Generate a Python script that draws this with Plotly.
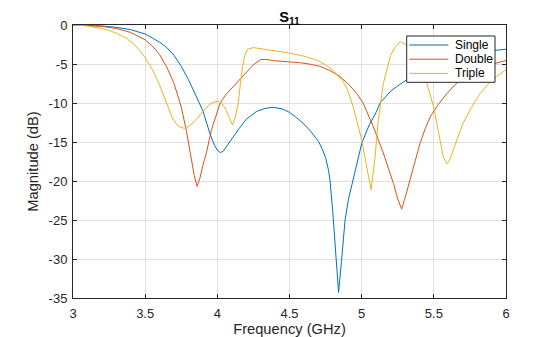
import plotly.graph_objects as go

# Frequency sweep (GHz) and |S11| (dB) for the three antenna variants
freq_single = [3.0, 3.1, 3.2, 3.3, 3.4, 3.5, 3.6, 3.65, 3.7, 3.75, 3.8, 3.85, 3.9, 3.95, 3.98, 4.0, 4.02,
               4.04, 4.07, 4.1, 4.15, 4.2, 4.27, 4.33, 4.38, 4.45, 4.5, 4.55, 4.6, 4.65, 4.7, 4.725, 4.75,
               4.77, 4.78, 4.8, 4.82, 4.84, 4.86, 4.885, 4.908, 4.94, 4.97, 5.0, 5.05, 5.1, 5.127, 5.15,
               5.2, 5.243, 5.3, 5.35, 5.4, 5.5, 5.6, 5.7, 5.8, 5.9, 6.0]
s11_single = [0, -0.04, -0.12, -0.3, -0.6, -1.15, -2.2, -2.9, -3.9, -5.3, -7.0, -9.0, -11.0, -14.0,
              -15.4, -16.05, -16.35, -16.2, -15.4, -14.5, -13.3, -12.1, -11.1, -10.7, -10.55, -10.75,
              -11.2, -11.9, -12.7, -13.7, -14.9, -15.8, -17.0, -18.6, -19.8, -24.0, -29.0, -34.3, -30.3,
              -25.0, -22.4, -19.9, -17.4, -15.2, -12.9, -11.2, -10.0, -9.5, -8.5, -7.9, -7.15, -6.5,
              -5.9, -4.95, -4.25, -3.8, -3.5, -3.3, -3.1]

freq_double = [3.0, 3.1, 3.2, 3.3, 3.4, 3.5, 3.55, 3.6, 3.65, 3.7, 3.75, 3.785, 3.82, 3.84, 3.86, 3.88,
               3.9, 3.924, 3.96, 3.99, 4.02, 4.06, 4.11, 4.18, 4.25, 4.3, 4.33, 4.39, 4.5, 4.57, 4.65,
               4.71, 4.78, 4.85, 4.92, 4.97, 5.01, 5.05, 5.08, 5.15, 5.22, 5.25, 5.277, 5.3, 5.335, 5.37,
               5.404, 5.44, 5.474, 5.53, 5.59, 5.65, 5.7, 5.78, 5.86, 5.93, 6.0]
s11_double = [0, -0.05, -0.18, -0.45, -0.95, -1.9, -2.7, -3.8, -5.4, -7.5, -10.5, -13.5, -17.0, -19.3,
              -20.7, -19.6, -18.0, -16.4, -13.4, -11.6, -10.0, -8.9, -7.9, -6.4, -5.1, -4.45, -4.4, -4.57,
              -4.7, -4.83, -5.05, -5.3, -5.85, -6.6, -7.8, -8.9, -10.0, -11.6, -13.0, -16.4, -20.3, -22.3,
              -23.6, -22.2, -19.9, -17.4, -15.2, -13.3, -11.8, -10.2, -8.8, -7.6, -6.7, -5.8, -5.3, -4.9, -4.55]

freq_triple = [3.0, 3.1, 3.2, 3.25, 3.3, 3.37, 3.42, 3.46, 3.5, 3.55, 3.6, 3.65, 3.69, 3.73, 3.77, 3.81,
               3.85, 3.9, 3.94, 3.97, 4.0, 4.03, 4.06, 4.085, 4.105, 4.125, 4.145, 4.16, 4.175, 4.19, 4.21,
               4.25, 4.35, 4.5, 4.6, 4.69, 4.75, 4.8, 4.87, 4.9, 4.94, 4.97, 5.0, 5.035, 5.065, 5.09, 5.115,
               5.15, 5.2, 5.24, 5.27, 5.31, 5.35, 5.4, 5.45, 5.5, 5.54, 5.565, 5.59, 5.61, 5.635, 5.67, 5.7,
               5.76, 5.82, 5.88, 5.935, 6.0]
s11_triple = [0, -0.12, -0.45, -0.7, -1.05, -1.7, -2.4, -3.2, -4.2, -5.7, -7.7, -10.0, -12.0, -13.0, -13.25,
              -12.9, -12.2, -11.1, -10.3, -9.9, -9.8, -10.0, -10.9, -12.0, -12.8, -11.8, -10.0, -7.5, -5.3,
              -3.9, -3.1, -2.9, -3.15, -3.6, -4.0, -4.5, -5.1, -5.8, -7.2, -8.2, -10.4, -12.5, -14.7, -18.2,
              -21.1, -17.5, -12.2, -7.5, -3.9, -2.6, -2.15, -2.55, -3.3, -4.9, -7.35, -10.6, -14.4, -16.9,
              -17.8, -17.3, -16.0, -14.3, -12.7, -10.6, -8.8, -7.5, -6.6, -5.7]

x_ticks = [3, 3.5, 4, 4.5, 5, 5.5, 6]
x_labels = ["3", "3.5", "4", "4.5", "5", "5.5", "6"]
y_ticks = [0, -5, -10, -15, -20, -25, -30, -35]
y_labels = ["0", "-5", "-10", "-15", "-20", "-25", "-30", "-35"]

series_names = ["Single", "Double", "Triple"]
series_colors = ["#0072BD", "#D95319", "#EDB120"]
series_freq = [freq_single, freq_double, freq_triple]
series_s11 = [s11_single, s11_double, s11_triple]

W, H = 560, 337
M_L, M_R, M_T, M_B = 73, 54, 25, 39
plot_w = W - M_L - M_R
plot_h = H - M_T - M_B

fig = go.Figure()
for name, f, s, color in zip(series_names, series_freq, series_s11, series_colors):
    fig.add_trace(go.Scatter(x=f, y=s, mode="lines", name=name, showlegend=False,
                             line=dict(color=color, width=1)))

axis_color = "#262626"
grid_color = "#e0e0e0"
common_axis = dict(showline=True, linecolor=axis_color, linewidth=1, mirror="ticks",
                   ticks="inside", ticklen=4, tickcolor=axis_color, tickwidth=1,
                   showgrid=True, gridcolor=grid_color, gridwidth=1, zeroline=False,
                   automargin=False, tickfont=dict(size=13, color=axis_color))

fig.update_xaxes(range=[3, 6], tickvals=x_ticks, ticktext=x_labels, ticklabelstandoff=3,
                 title=dict(text="Frequency (GHz)", font=dict(size=14.7, color=axis_color), standoff=2),
                 **common_axis)
fig.update_yaxes(range=[-35, 0], tickvals=y_ticks, ticktext=y_labels, ticklabelstandoff=2,
                 title=dict(text="Magnitude (dB)", font=dict(size=14.7, color=axis_color), standoff=6),
                 **common_axis)


# Legend box in the upper-right corner (pixel layout converted to paper units)
def px_x(px):
    return (px - M_L) / plot_w


def px_y(py):
    return (H - M_B - py) / plot_h


leg_left, leg_right, leg_top, leg_bottom = 406.7, 495.0, 36.0, 82.3
row_first, row_step = 45.0, 14.2
sample_x0, sample_x1, text_x = 409.3, 448.3, 452.7

shapes = [dict(type="rect", xref="paper", yref="paper", layer="above",
               x0=px_x(leg_left), x1=px_x(leg_right), y0=px_y(leg_bottom), y1=px_y(leg_top),
               fillcolor="white", line=dict(color=axis_color, width=1))]
annotations = []
for i, (name, color) in enumerate(zip(series_names, series_colors)):
    ry = px_y(row_first + i * row_step)
    shapes.append(dict(type="line", xref="paper", yref="paper", layer="above",
                       x0=px_x(sample_x0), x1=px_x(sample_x1), y0=ry, y1=ry,
                       line=dict(color=color, width=1)))
    annotations.append(dict(text=name, xref="paper", yref="paper", x=px_x(text_x), y=ry,
                            xanchor="left", yanchor="middle", showarrow=False,
                            font=dict(size=12, color="black")))

fig.update_layout(
    width=W, height=H,
    margin=dict(l=M_L, r=M_R, t=M_T, b=M_B),
    paper_bgcolor="white", plot_bgcolor="white",
    font=dict(family="Liberation Sans, Arial, sans-serif", size=13, color=axis_color),
    title=dict(text="<b>S<sub>11</sub></b>", x=0.5, xref="paper", xanchor="center",
               yref="container", y=1 - 16.5 / H, yanchor="middle", font=dict(size=14.7, color="black")),
    shapes=shapes,
    annotations=annotations,
    showlegend=False,
)

fig.write_html("out.html")
